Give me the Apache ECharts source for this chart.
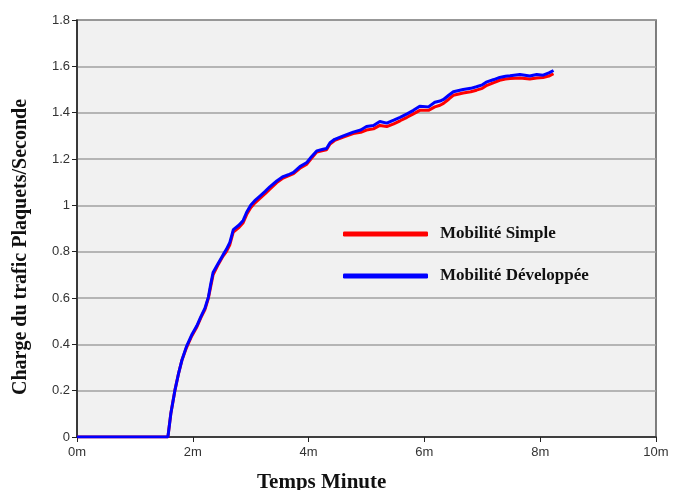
<!DOCTYPE html>
<html>
<head>
<meta charset="utf-8">
<script src="https://cdn.jsdelivr.net/npm/echarts@6/dist/echarts.min.js"></script>
<style>
html,body{margin:0;padding:0;background:#fff;}
#c{width:678px;height:490px;}
</style>
</head>
<body>
<div id="c"></div>
<script>
var times = [0, 1.57, 1.62, 1.69, 1.75, 1.81, 1.89, 1.98, 2.07, 2.14, 2.21, 2.27, 2.31, 2.35, 2.44, 2.52, 2.58, 2.64, 2.70, 2.73, 2.80, 2.87, 2.93, 3.00, 3.07, 3.16, 3.25, 3.33, 3.45, 3.56, 3.65, 3.74, 3.85, 3.97, 4.05, 4.14, 4.25, 4.31, 4.37, 4.45, 4.60, 4.77, 4.90, 5.00, 5.12, 5.23, 5.35, 5.47, 5.58, 5.70, 5.81, 5.92, 6.07, 6.18, 6.27, 6.33, 6.42, 6.50, 6.67, 6.80, 6.90, 7.00, 7.08, 7.20, 7.30, 7.40, 7.48, 7.65, 7.82, 7.94, 8.05, 8.15, 8.23];
var developpee = [0, 0, 0.1, 0.2, 0.27, 0.33, 0.39, 0.44, 0.48, 0.52, 0.556, 0.605, 0.66, 0.71, 0.75, 0.785, 0.81, 0.84, 0.895, 0.90, 0.915, 0.935, 0.97, 1.0, 1.02, 1.04, 1.06, 1.08, 1.105, 1.124, 1.132, 1.142, 1.167, 1.185, 1.21, 1.235, 1.242, 1.245, 1.27, 1.285, 1.30, 1.316, 1.325, 1.34, 1.345, 1.362, 1.355, 1.368, 1.38, 1.395, 1.41, 1.428, 1.425, 1.445, 1.45, 1.457, 1.475, 1.49, 1.50, 1.505, 1.512, 1.52, 1.533, 1.543, 1.552, 1.557, 1.559, 1.565, 1.558, 1.565, 1.562, 1.572, 1.582];
var simple = [0, 0, 0.1, 0.2, 0.27, 0.33, 0.385, 0.435, 0.475, 0.515, 0.55, 0.60, 0.65, 0.70, 0.745, 0.78, 0.80, 0.83, 0.885, 0.89, 0.905, 0.925, 0.96, 0.99, 1.01, 1.03, 1.05, 1.07, 1.098, 1.118, 1.127, 1.137, 1.16, 1.178, 1.203, 1.23, 1.237, 1.24, 1.265, 1.28, 1.295, 1.31, 1.315, 1.325, 1.33, 1.345, 1.34, 1.352, 1.365, 1.38, 1.395, 1.41, 1.41, 1.425, 1.432, 1.44, 1.458, 1.475, 1.485, 1.49, 1.497, 1.505, 1.518, 1.53, 1.54, 1.545, 1.547, 1.55, 1.545, 1.55, 1.552, 1.558, 1.568];
var seriesNames = ['Mobilité Simple', 'Mobilité Développée'];
var xTitle = 'Temps Minute';
var yTitle = 'Charge du trafic Plaquets/Seconde';

function pairs(ys){ return times.map(function(t,i){ return [t, ys[i]]; }); }

var chart = echarts.init(document.getElementById('c'), null, {renderer:'canvas'});
chart.setOption({
  animation: false,
  backgroundColor: '#ffffff',
  grid: {left: 77, right: 22, top: 20, bottom: 53, show: true, backgroundColor: '#f1f1f1', borderColor: '#555', borderWidth: 1.5},
  legend: {
    data: seriesNames,
    orient: 'vertical',
    left: 338, top: 220,
    itemWidth: 85, itemHeight: 5, itemGap: 24,
    icon: 'roundRect',
    textStyle: {fontFamily: 'Liberation Serif', fontWeight: 'bold', fontSize: 17, color: '#111', lineHeight: 18, padding: [0,0,0,7]}
  },
  xAxis: {
    type: 'value', min: 0, max: 10, interval: 2,
    axisLine: {show: true, lineStyle: {color: '#222', width: 1.5}},
    axisTick: {show: true, length: 5, lineStyle: {color: '#222'}},
    axisLabel: {formatter: function(v){ return v + 'm'; }, fontFamily: 'Liberation Sans Narrow, Liberation Sans', fontSize: 13, color: '#333', margin: 9},
    splitLine: {show: false}
  },
  yAxis: {
    type: 'value', min: 0, max: 1.8, interval: 0.2,
    axisLine: {show: true, lineStyle: {color: '#222', width: 1.5}},
    axisTick: {show: true, length: 5, lineStyle: {color: '#222'}},
    axisLabel: {formatter: function(v){ return String(Math.round(v*10)/10); }, fontFamily: 'Liberation Sans', fontSize: 13, color: '#333', margin: 7},
    splitLine: {show: true, lineStyle: {color: '#a0a0a0', width: 1.5}}
  },
  graphic: [
    {type: 'text', left: 257, top: 472, style: {text: xTitle, font: 'bold 21px "Liberation Serif"', fill: '#111'}},
    {type: 'text', x: 11, y: 395, rotation: Math.PI/2, style: {text: yTitle, font: 'bold 20px "Liberation Serif"', fill: '#111', textVerticalAlign: 'top'}}
  ],
  series: [
    {name: seriesNames[0], type: 'line', data: pairs(simple), showSymbol: false, symbol: 'none', lineStyle: {color: '#ff0000', width: 3}, itemStyle: {color: '#ff0000'}},
    {name: seriesNames[1], type: 'line', data: pairs(developpee), showSymbol: false, symbol: 'none', lineStyle: {color: '#0000ff', width: 3}, itemStyle: {color: '#0000ff'}}
  ]
});
</script>
</body>
</html>
